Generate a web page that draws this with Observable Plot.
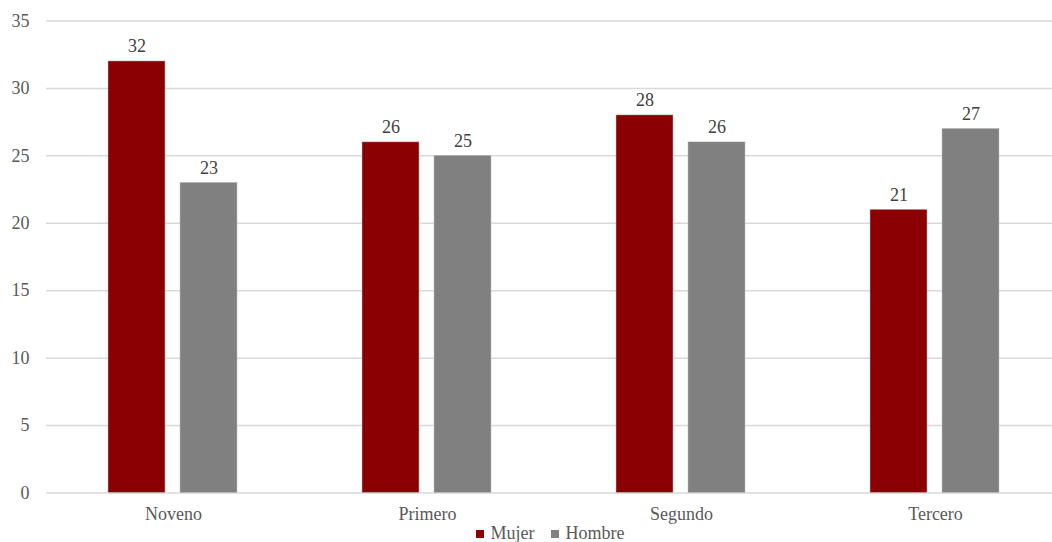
<!DOCTYPE html>
<html>
<head>
<meta charset="utf-8">
<script src="https://cdn.jsdelivr.net/npm/d3@7"></script>
<script src="https://cdn.jsdelivr.net/npm/@observablehq/plot@0.6"></script>
<style>
  html, body { margin: 0; padding: 0; background: #fff; overflow: hidden; width: 1052px; height: 542px; }
  #chart { position: absolute; left: 0; top: 0; width: 1062px; }
  #chart svg { max-width: none !important; }
  #legend { position: absolute; top: 523px; left: 24px; width: 1052px; text-align: center; font-family: "Liberation Serif", serif; font-size: 18px; color: #595959; line-height: 20px; }
  #legend span.sw { display: inline-block; width: 8px; height: 8px; margin-right: 7px; vertical-align: 1px; }
  #legend span.item { margin: 0 8px; }
</style>
</head>
<body>
<div id="chart"></div>
<div id="legend"></div>
<script>
const categories = ["Noveno", "Primero", "Segundo", "Tercero"];
const series = ["Mujer", "Hombre"];
const mujer = [32, 26, 28, 21];
const hombre = [23, 25, 26, 27];
const colors = ["#8B0000", "#808080"];
const yTicks = [0, 5, 10, 15, 20, 25, 30, 35];

const values = [mujer, hombre];
const data = [];
categories.forEach((c, i) => series.forEach((s, j) => data.push({cat: c, serie: s, value: values[j][i]})));

const chart = Plot.plot({
  width: 1062,
  height: 542,
  marginLeft: 45,
  marginRight: 0,
  marginTop: 20.5,
  marginBottom: 49.5,
  style: {fontFamily: "Liberation Serif", fontSize: "18px", color: "#595959", background: "transparent", maxWidth: "none"},
  fx: {domain: categories, padding: 0, label: null, tickSize: 0, tickPadding: 14},
  x: {domain: series, paddingInner: 0.207, paddingOuter: 0.857, axis: null},
  y: {domain: [0, 35], ticks: yTicks, tickSize: 0, tickPadding: 17, label: null},
  color: {domain: series, range: colors},
  marks: [
    Plot.ruleY(yTicks, {stroke: "#d9d9d9", strokeWidth: 1.5}),
    Plot.barY(data, {fx: "cat", x: "serie", y: "value", fill: "serie", stroke: "#bfbfbf", strokeWidth: 0.5}),
    Plot.text(data, {fx: "cat", x: "serie", y: "value", text: d => String(d.value), lineAnchor: "bottom", dy: -9, fill: "#404040", fontSize: 18})
  ]
});
chart.style.maxWidth = "none";
document.getElementById("chart").appendChild(chart);

const legend = document.getElementById("legend");
series.forEach((s, j) => {
  const item = document.createElement("span");
  item.className = "item";
  const sw = document.createElement("span");
  sw.className = "sw";
  sw.style.background = colors[j];
  item.appendChild(sw);
  item.appendChild(document.createTextNode(s));
  legend.appendChild(item);
});
</script>
</body>
</html>
